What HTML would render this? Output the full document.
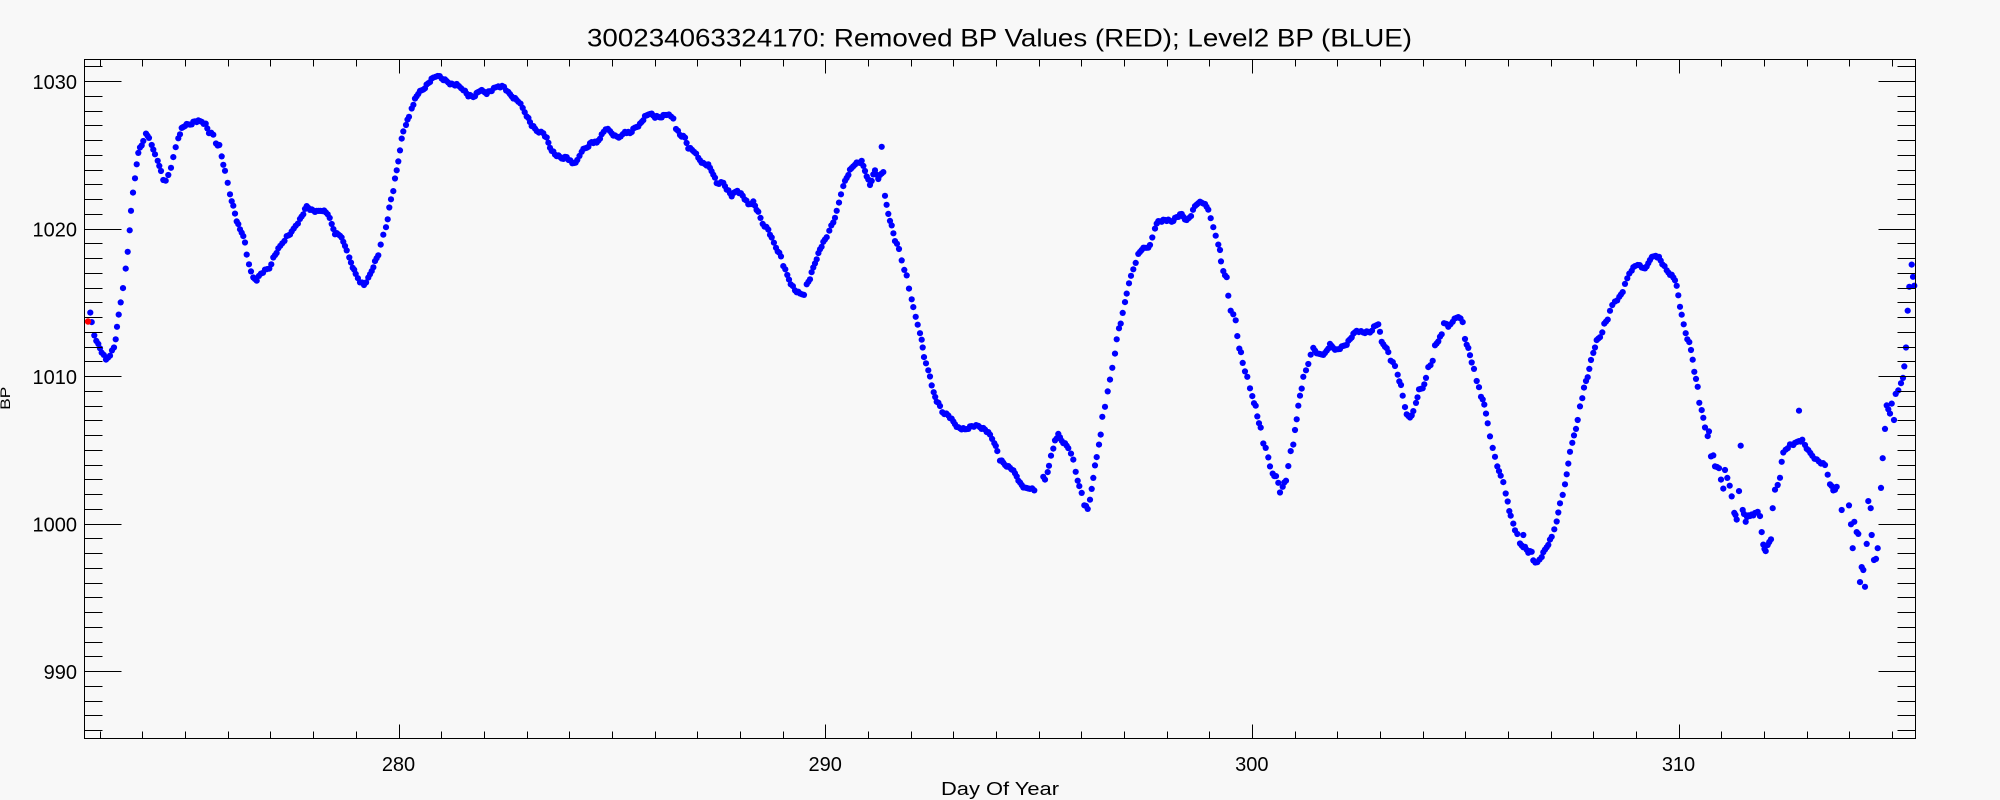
<!DOCTYPE html>
<html>
<head>
<meta charset="utf-8">
<style>
html,body{margin:0;padding:0;background:#f8f8f8;}
svg{display:block;}
text{font-family:"Liberation Sans",sans-serif;fill:#000;}
</style>
</head>
<body>
<svg id="s" xmlns="http://www.w3.org/2000/svg" width="2000" height="800" viewBox="0 0 2000 800">
<rect x="0" y="0" width="2000" height="800" fill="#f8f8f8"/>
<g id="dots"></g>
<path id="ticks" d="" stroke="#000" stroke-width="1" fill="none" shape-rendering="crispEdges"/>
<rect x="84.5" y="59.5" width="1831" height="679" fill="none" stroke="#000" stroke-width="1" shape-rendering="crispEdges"/>
<text x="999.5" y="46.5" font-size="25" text-anchor="middle" textLength="825" lengthAdjust="spacingAndGlyphs">300234063324170: Removed BP Values (RED); Level2 BP (BLUE)</text>
<g font-size="20" text-anchor="end">
<text x="77" y="89">1030</text>
<text x="77" y="236.5">1020</text>
<text x="77" y="384">1010</text>
<text x="77" y="531.5">1000</text>
<text x="77" y="679">990</text>
</g>
<g font-size="20" text-anchor="middle">
<text x="398.5" y="771">280</text>
<text x="825.2" y="771">290</text>
<text x="1251.8" y="771">300</text>
<text x="1678.5" y="771">310</text>
</g>
<text x="1000" y="795" font-size="18.5" text-anchor="middle" textLength="118" lengthAdjust="spacingAndGlyphs">Day Of Year</text>
<text transform="translate(10,398.3) rotate(-90)" font-size="14" text-anchor="middle" textLength="23" lengthAdjust="spacingAndGlyphs">BP</text>
</svg>
<script>
(function(){
function P(s){return s.trim().split(/\s+/).map(function(t){var a=t.split(',');return [parseFloat(a[0]),parseFloat(a[1])];});}
var A1=P("90.3,313.6 91.7,322.5 94.3,335 98.3,344.6 101.7,352 106,360 110,354.6 114,347.5 115.7,338.6 117,327.9 118.7,315 120.7,302 123,287 125.7,269.3 127.7,251.8 129.7,229.6 131,211.8 133,192.9 135,177.9 136.7,163.2 138.3,153.6 140,147.5 143.3,142.1 146,133.9 149,136.8 151.7,145.7 155,153.6 157.7,161.8 161,170.7 163.3,178.9 165.7,181.4 168.3,175 171,167.1 173.3,158.2 175.7,147.5 178.3,137.9 181.7,128.6 185,125.4 190,124.3 195,121.4 201.7,121.4 205.7,124.3 209,132.5 213.3,135 216,143.2 219.3,145.7 221.7,156.4 225,171.8 227.7,183.2 230,193.9 233.3,206.4 236.7,220.7 240,229.6 243.3,235 245,243.2 246.7,254.6 249,263.6 251,272.5 253.3,277.9 256.7,279.6 261,273.6 265,270.7 269.3,268.2 273.3,258.2 278.3,249.3 282.3,242.9 286.7,236.8 291.7,232.5 295.7,225.4 300,219.6 303.3,213.6 306.7,206.4 311.7,210 316.7,211.8 322.3,210 327.7,213.6 331.7,224.3 335,233.2 340,235 343.3,242.1 346.7,249.3 349.3,258.2 352.7,267.1 355.7,274.3 360,281.4 364,285 368.3,278.6 371.7,270.7 375,261.8 378.3,254.6 380.7,245.7 383.3,235 386,226.8 387.7,218.2 389.3,208.2 391,199.3 393.3,190.4 395,179.6 396.7,170.7 398.3,161.1 400,149.3 401.7,139.3 403.3,131.4 406,124.3 409,117.1 411.7,108.2 415,99.3 418.3,93.2 423.3,89.3 428.3,83.2 433.3,77.9 437.7,75 441.7,78.6 446.7,81.4 451.7,84.3 456.7,85 463.3,89.3 468.3,95.7 473.3,96.8 480,90.4 486.7,92.9 491.7,90.4 498.3,86.1 504,86.8 508.3,92.9 513.3,97.5 518.3,101.1 522.7,108.2 526.7,115.4 531.7,125.4 536.7,130.7 543.3,133.2 546.7,138.6 550,147.5 555,154.6 561.7,158.2 566.7,157.1 572.3,163.6 577.3,160.7 581.7,151.1 586.7,147.5 591.7,142.1 596.7,142.9 601.7,135 605.7,128.6 610,131.4 615,136.1 620.7,137.5 625,131.4 630,133.2 635,127.9 640,124.3 645,117.1 650,112.9 655,117.1 660,117.1 666.7,114.3 673.3,118.2 676,127.9 680,135 685,137.9 688.3,147.5 694,151.1 698.3,158.2 703.3,163.6 708.3,165.4 713.3,173.6 716.7,183.2 723.3,183.2 726.7,188.6 731.7,195.7 737.3,190.4 742.7,195.7 748.3,204.6 753.3,202.1 758.3,212.9 762.7,223.6 768.3,229.6 771.7,238.6 776,247.5 781,256.4 783.3,265.4 787.3,275.4 790.7,283.2 795,290.4 800,293.9 804,293.9 806.7,285 810,278.6 813.3,267.9 816.7,258.2 820,249.3 823.3,242.9 826.7,236.8 829.3,229.6 833.3,222.5 836.7,211.8 839,202.9 841,193.9 843.3,185 846.7,177.9 850,170.7 855,163.6 861.7,161.8 865,170.7 870,185 875,170.7 878.3,177.9 883.3,171.4 885,196.8 888.3,213.6 891.7,226.1 895,240.4 899,249.3 901.7,260 904.3,268.9 906.7,276.1 909,288.6 911.7,298.6 913.3,308.2 915.7,317.1 917.7,324.3 920,332.1 921.7,340.4 922.7,347.5 924,356.4 926,364.3 928.3,370.7 930,376.1 931.7,384.3 933.7,392.9 936.7,401.1 940,406.4 942.3,411.8 948.3,415.4 953.3,421.8 958.3,427.9 965,429.6 971.7,426.1 978.3,426.1 985,429.6 990,435 994.3,442.1 997.3,451.1 1000,460 1005,464.6 1011.7,468.9 1016.7,476.1 1020,483.2 1025,488.6 1030,487.9 1034.3,490.4");
var A2=P("1043.3,476.1 1045,480.7 1047.7,472.5 1049,465.4 1051,454.6 1053.3,449.3 1055,440.4 1058.3,435 1061.7,440.4 1065,443.9 1068.3,447.5 1071,454.6 1073.3,460 1075.7,471.4 1077.7,479.6 1079.3,486.8 1081.7,492.9 1084.3,504.6 1087.7,509.3 1090,499.3 1091.7,487.9 1093.3,478.6 1095,465.4 1096.7,456.4 1099,445.7 1100.7,435 1102.3,416.4 1105,405.7 1107.7,392.1 1110,379.6 1112.3,367.1 1115,354.6 1116.7,339.6 1119,327.9 1120.7,322.5 1122.7,313.6 1125,302.1 1126.7,292.9 1129,284.3 1131,276.1 1133.3,268.9 1135.7,261.8 1138.3,254.6 1141.7,249.3 1146.7,247.5 1150,245.7 1152.3,237.5 1155,227.9 1158.3,221.4 1165,220 1171.7,221.4 1176.7,217.1 1181.7,214.3 1186.7,220.7 1191,215.4 1195,206.4 1198.3,202.1 1203.3,202.9 1208.3,209.3 1210.7,217.1 1213.3,227.9 1215.7,235.7 1218.3,243.9 1220,251.1 1221,261.8 1223.3,270.7 1226.7,277.9 1228.3,295.7 1230.7,310 1233.3,315.4 1235.7,320.7 1237.3,335.7 1239.3,347.5 1241,352.9 1242.7,362.9 1245,370.7 1247.3,377.9 1250,388.6 1252.3,395.7 1254,402.1 1255.7,406.4 1257.3,416.4 1260.7,428.6 1263.3,443.9 1265.7,447.5 1268.3,456.4 1270,467.1 1272.7,473.6 1276,477.1 1278.3,483.2 1280,492.1 1282.7,485.7 1286,480.7 1288.3,465.4 1290.7,452.1 1293.3,445 1295,429.6 1296.7,418.2 1298.3,406.4 1300,395.7 1301.7,387.9 1303.3,377.9 1306,370.7 1308.3,363.6 1310.7,353.6 1313.3,348.6 1318.3,354.6 1325,353.6 1330,345 1336.7,350 1341.7,347.5 1346.7,343.9 1351.7,336.8 1356.7,330.4 1363.3,332.5 1370,332.1 1374,327.1 1378.3,323.6 1381.7,342.1 1385,345.7 1388.3,352.1 1390.7,360 1395,366.4 1397.7,374.3 1399.3,380.4 1401,385.7 1402.7,395.7 1405,406.4 1406.7,415.4 1410,417.1 1413.3,411.8 1416,402.9 1419,390.4 1422.7,387.9 1426,378.6 1428.3,367.1 1432.7,361.8 1435,345.7 1438.3,340.4 1441.7,334.3 1444,322.5 1448.3,327.1 1452.7,320.7 1458.3,316.4 1462.7,322.5 1465,338.6 1468.3,348.6 1471.7,361.8 1474,370 1476.7,381.4 1479,386.8 1481,395.7 1484.3,404.6 1486,412.9 1487.7,424.3 1490,436.8 1492.7,447.5 1495,455.7 1497.3,467.1 1500.7,475 1503.3,483.2 1505.7,493.9 1507.7,501.1 1509.3,510 1510.7,516.4 1513.3,523.6 1515,529.6 1517.3,535 1520,543.9 1525,547.5 1528.3,552.1 1531.7,552.1 1533.3,560 1537.3,562.9 1541.7,556.4 1545,550 1548.3,543.9 1551.7,536.8 1554.3,528.6 1556.7,522.5 1558.3,512.9 1560,502.9 1562.7,493.9 1565,485 1566.7,474.3 1568.3,462.9 1570,452.9 1572.3,443.2 1574,435 1576,427.9 1577.7,420.7 1580,406.4 1582.3,397.5 1584,388.6 1586,381.4 1587.7,376.8 1589.3,367.9 1591,360.7 1593.3,352.9 1595,346.8 1596.7,341.1 1600,336.8 1602.3,331.4 1604.3,324.3 1607.7,318.9 1610,311.8 1612.3,305.4 1615,301.1 1619.3,297.5 1622.7,291.4 1625,285 1627.3,278.6 1629.3,273.2 1631.7,269.6 1635,266.1 1637.7,264.3 1641.7,267.9 1646.7,267.1 1650,259.3 1655.7,255.4 1659,257.5 1662.3,263.6 1666.7,270.7 1671.7,275.4 1675,279.6 1676.7,286.8 1678.3,295.7 1680,306.4 1681.7,313.6 1683.7,325 1685.7,333.2 1687.3,338.6 1689.3,343.2 1691,350.4 1692.7,359.3 1694.3,370.7 1696,379.6 1697.7,386.8 1699.3,402.1 1701.7,411.1 1703.3,418.2 1705,427.1 1707.7,435");
var C=P("1775,490.4 1777.7,485 1780,477.1 1781.7,462.9 1783.3,452.9 1785.7,449.3 1790,445 1795,443.9 1799,440.7 1802.3,440.4 1805,445 1808.3,451.1 1812.3,455.4 1816.7,460 1821,462.9 1825,465.4 1827.7,474.3 1830,483.2 1833.3,490.4 1836.7,487.9");
var E=P("881.7,146.8 1523.3,535 1740.7,445.7 1799,410.7 1709,431.4 1711,456.4 1713.3,455.4 1715,466.4 1717,467 1719,468.2 1721,479.6 1723.3,488.6 1725,470 1727.3,477.9 1729.7,485.7 1731.7,496.4 1734.3,512.9 1735.5,515 1736.7,519.6 1739,491.1 1742.7,510 1744,514 1745.7,521.8 1747,517 1748.3,515.4 1750,516 1751.7,514.5 1753.3,515.4 1755,513 1757.7,511.8 1760,516.1 1761.7,532.1 1763.3,544.6 1764.5,549 1765.7,551.1 1767.7,545 1769.3,542 1771,539.3 1772.7,508.2 1841.7,510 1849,505.4 1851,524.3 1852.7,548.2 1854.3,521.8 1856.7,532.1 1858.3,533.9 1860,582.1 1861.7,567.1 1863.3,570 1865,586.8 1866.7,543.9 1868.3,501.1 1870.7,508.2 1871.7,535 1874,560 1876,558.9 1877.7,548.2 1881,487.9 1882.7,458.2 1885,428.9 1886.7,405.4 1888.3,409.3 1890,413.6 1891.7,403.6 1894,420 1895.7,393.9 1898.3,390.4 1901,383.2 1903,377.9 1904.3,366.4 1906,347.5 1907.7,310.7 1909.3,286.8 1911.7,264.6 1913,276.8 1914.3,285.7");
function dense(pts,step){var out=[];for(var i=0;i<pts.length-1;i++){var x0=pts[i][0],y0=pts[i][1],x1=pts[i+1][0],y1=pts[i+1][1];var n=Math.max(1,Math.round((x1-x0)/step));for(var k=0;k<n;k++){var t=k/n;out.push([x0+(x1-x0)*t,y0+(y1-y0)*t]);}}out.push(pts[pts.length-1]);return out;}
var all=[].concat(dense(A1,1.9),dense(A2,1.9),dense(C,1.9));
var s='';
for(var i=0;i<all.length;i++){var j=((i*7919)%7-3)*0.35;s+='<circle cx="'+all[i][0].toFixed(1)+'" cy="'+(all[i][1]+j).toFixed(1)+'" r="3.1"/>';}
for(var i=0;i<E.length;i++){s+='<circle cx="'+E[i][0]+'" cy="'+E[i][1]+'" r="3.1"/>';}
var g=document.getElementById('dots');
g.setAttribute('fill','#0000ff');
g.innerHTML=s+'<circle cx="88" cy="321.5" r="3.2" fill="#ff0000"/>';
var X=function(d){return 398.5+(d-280)*42.667;};
var Y=function(v){return 81+(1030-v)*14.75;};
var d='';
for(var dd=273;dd<=315;dd++){var x=Math.round(X(dd))+0.5;var L=(dd%10===0)?14:7;d+='M'+x+' 738.5v-'+L+'M'+x+' 59.5v'+L;}
for(var v=986;v<=1031;v++){var y=Math.round(Y(v))+0.5;var L2=(v%10===0)?37:18;d+='M84.5 '+y+'h'+L2+'M1915.5 '+y+'h-'+L2;}
document.getElementById('ticks').setAttribute('d',d);
})();
</script>
</body>
</html>
